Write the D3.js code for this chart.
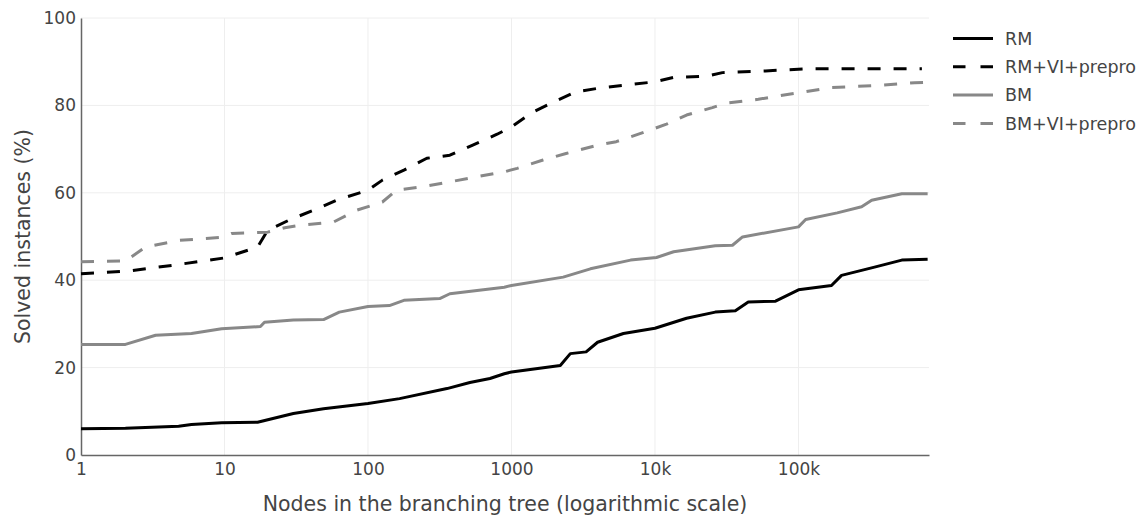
<!DOCTYPE html>
<html>
<head>
<meta charset="utf-8">
<script src="https://cdn.jsdelivr.net/npm/d3@7"></script>
<style>
  body { margin: 0; background: #fff; }
  svg text { font-family: "DejaVu Sans", Verdana, sans-serif; fill: #444; }
</style>
</head>
<body>
<div id="chart"></div>
<script>
// values: node counts and % solved
const rmNodes = [1, 2.04, 4.79, 5.89, 9.55, 17, 30.2, 49, 100, 166, 355, 513, 708, 891,
  1000, 2188, 2570, 3311, 3981, 6026, 10000, 16596, 26303, 36308, 44668, 69183,
  100000, 169824, 199526, 338844, 524807, 794328];
const rmVals = [6.0, 6.1, 6.6, 7.0, 7.4, 7.5, 9.5, 10.6, 11.8, 12.9, 15.2, 16.6, 17.5, 18.6,
  19.0, 20.5, 23.2, 23.6, 25.8, 27.8, 29.0, 31.3, 32.7, 33.0, 35.0, 35.2,
  37.8, 38.8, 41.1, 43.0, 44.6, 44.8];

const rmPreNodes = [1, 2.14, 4.79, 10, 17, 20, 28.8, 41.7, 60.3, 100, 126, 178, 257, 372, 537,
  794, 1000, 1413, 2089, 2818, 4169, 10000, 13490, 22909, 29512, 58884, 123027, 724436];
const rmPreVals = [41.5, 42.1, 43.6, 45.1, 47.6, 51.4, 53.9, 56.0, 58.3, 60.6, 62.9, 65.2, 67.9, 68.6, 70.9,
  73.4, 75.1, 78.5, 81.2, 83.1, 84.0, 85.4, 86.4, 86.7, 87.5, 87.9, 88.4, 88.4];

const bmNodes = [1, 2.04, 3.31, 5.89, 9.55, 17.8, 19, 30.2, 49, 63.1, 100, 141, 178, 316, 372, 891,
  1000, 2291, 3548, 6761, 10233, 13490, 26303, 34674, 40738, 100000, 112202, 186209, 275423,
  323594, 524807, 794328];
const bmVals = [25.3, 25.3, 27.4, 27.8, 28.9, 29.4, 30.4, 30.9, 31.0, 32.7, 34.0, 34.2, 35.4, 35.8, 36.9, 38.4,
  38.8, 40.7, 42.6, 44.6, 45.2, 46.5, 47.9, 48.0, 49.9, 52.2, 53.9, 55.4, 56.8,
  58.3, 59.8, 59.8];

const bmPreNodes = [1, 2.04, 2.82, 4.79, 9.55, 11.2, 20, 26.3, 33.9, 57.5, 83.2, 126, 158, 240, 372, 537,
  891, 1096, 1660, 2399, 3981, 5370, 7943, 12023, 16596, 25119, 30903, 52481, 100000,
  169824, 380189, 645654, 794328];
const bmPreVals = [44.2, 44.4, 47.6, 49.1, 49.8, 50.7, 51.0, 52.0, 52.6, 53.3, 56.0, 57.9, 60.6, 61.4, 62.5, 63.5,
  64.8, 65.6, 67.5, 69.0, 70.9, 71.7, 73.6, 75.7, 77.8, 79.5, 80.5, 81.4, 82.9,
  84.1, 84.6, 85.2, 85.3];

const seriesNames = ["RM", "RM+VI+prepro", "BM", "BM+VI+prepro"];
const xTicks = [1, 10, 100, 1000, 10000, 100000];
const xTickLabels = ["1", "10", "100", "1000", "10k", "100k"];
const yTicks = [0, 20, 40, 60, 80, 100];

const series = [
  {name: seriesNames[0], nodes: rmNodes, vals: rmVals, color: "#000", dash: null},
  {name: seriesNames[1], nodes: rmPreNodes, vals: rmPreVals, color: "#000", dash: "13,13"},
  {name: seriesNames[2], nodes: bmNodes, vals: bmVals, color: "#888", dash: null},
  {name: seriesNames[3], nodes: bmPreNodes, vals: bmPreVals, color: "#888", dash: "13,13"}
];

const W = 1146, H = 520;
const margin = {top: 18, left: 81, right: 217, bottom: 65};
const width = W - margin.left - margin.right,
      height = H - margin.top - margin.bottom;

const svg = d3.select("#chart").append("svg")
    .attr("width", W)
    .attr("height", H);

const g = svg.append("g")
    .attr("transform", "translate(" + margin.left + "," + margin.top + ")");

const x = d3.scaleLog().domain([1, 812000]).range([0, width]);
const y = d3.scaleLinear().domain([0, 100]).range([height, 0]);

// grid
g.append("g").selectAll("line")
    .data(yTicks.slice(1))
    .enter().append("line")
    .attr("x1", 0).attr("x2", width)
    .attr("y1", d => y(d)).attr("y2", d => y(d))
    .attr("stroke", "#eee").attr("stroke-width", 1);

g.append("g").selectAll("line")
    .data(xTicks.slice(1))
    .enter().append("line")
    .attr("x1", d => x(d)).attr("x2", d => x(d))
    .attr("y1", 0).attr("y2", height)
    .attr("stroke", "#eee").attr("stroke-width", 1);

// axes
const xAxis = d3.axisBottom(x).tickValues(xTicks)
    .tickFormat((d, i) => xTickLabels[i]).tickSize(0).tickPadding(8);
const yAxis = d3.axisLeft(y).tickValues(yTicks).tickSize(0).tickPadding(5);

const gx = g.append("g")
    .attr("transform", "translate(0," + height + ")")
    .call(xAxis);
gx.select(".domain").attr("stroke", "#666").attr("stroke-width", 1.5);
gx.selectAll("text").attr("font-size", 17).attr("fill", "#444")
    .attr("font-family", "DejaVu Sans, Verdana, sans-serif");

const gy = g.append("g").call(yAxis);
gy.select(".domain").attr("stroke", "#666").attr("stroke-width", 1.5);
gy.selectAll("text").attr("font-size", 17).attr("fill", "#444")
    .attr("font-family", "DejaVu Sans, Verdana, sans-serif");

// lines
const line = d3.line()
    .x(d => x(d[0]))
    .y(d => y(d[1]));

series.forEach(s => {
    const pts = s.nodes.map((n, i) => [n, s.vals[i]]);
    g.append("path")
        .datum(pts)
        .attr("fill", "none")
        .attr("stroke", s.color)
        .attr("stroke-width", 3)
        .attr("stroke-linejoin", "round")
        .attr("stroke-dasharray", s.dash)
        .attr("d", line);
});

// axis titles
svg.append("text")
    .attr("x", margin.left + width / 2)
    .attr("y", 511)
    .attr("text-anchor", "middle")
    .attr("font-size", 20.5)
    .text("Nodes in the branching tree (logarithmic scale)");

svg.append("text")
    .attr("transform", "translate(30," + (margin.top + height / 2) + ") rotate(-90)")
    .attr("text-anchor", "middle")
    .attr("font-size", 20.5)
    .text("Solved instances (%)");

// legend
const legend = svg.append("g").attr("transform", "translate(953,38.5)");
series.forEach((s, i) => {
    const row = legend.append("g").attr("transform", "translate(0," + (i * 28.3) + ")");
    row.append("line")
        .attr("x1", 0).attr("x2", 40)
        .attr("stroke", s.color)
        .attr("stroke-width", 3)
        .attr("stroke-dasharray", s.dash ? "12.5,15" : null);
    row.append("text")
        .attr("x", 52)
        .attr("dy", "0.36em")
        .attr("font-size", 17.5)
        .text(s.name);
});
</script>
</body>
</html>
